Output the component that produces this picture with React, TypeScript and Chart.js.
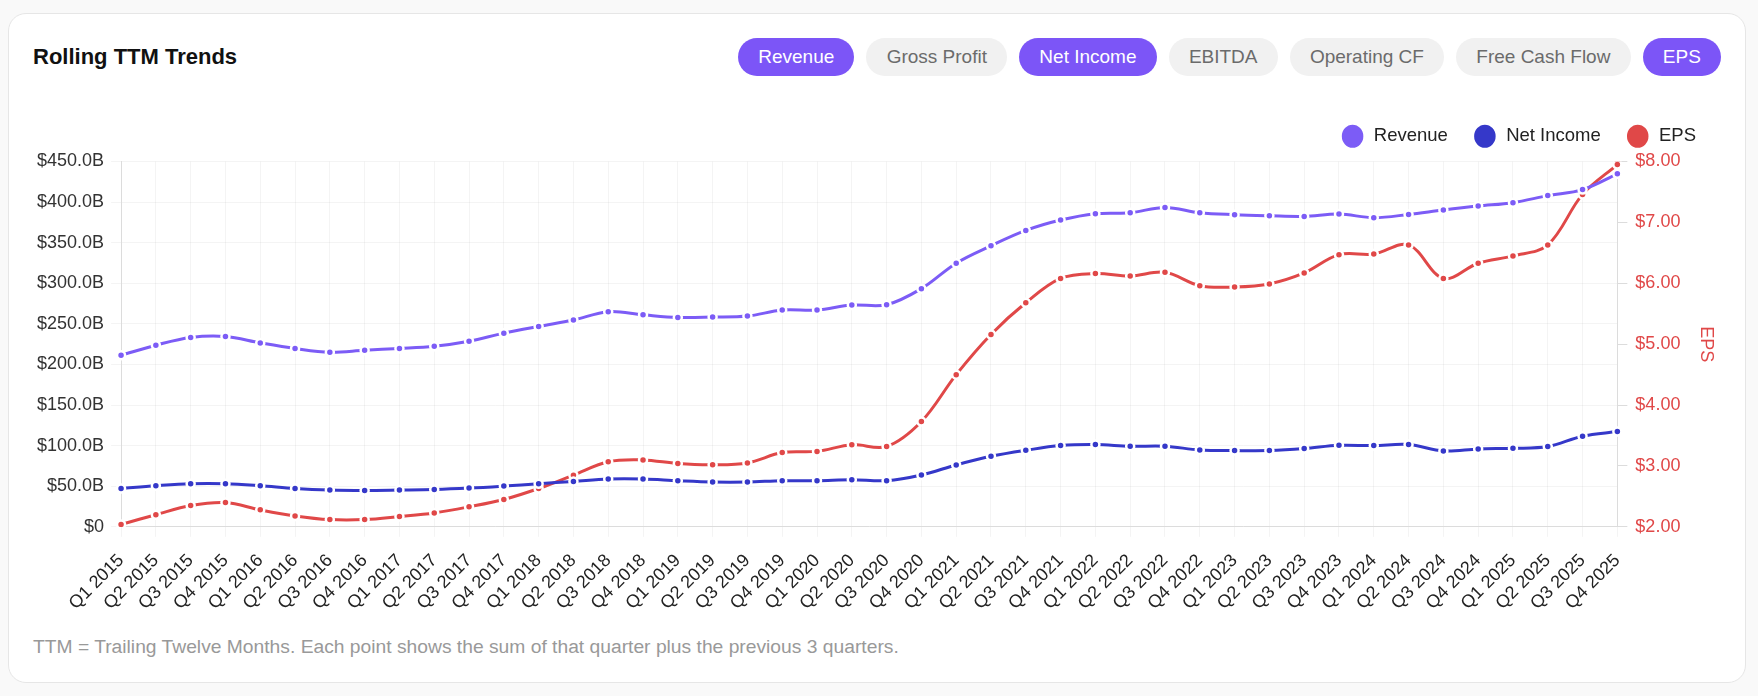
import { useEffect, useRef } from "react";
import Chart from "chart.js/auto";

const quarters = [
  "Q1 2015", "Q2 2015", "Q3 2015", "Q4 2015",
  "Q1 2016", "Q2 2016", "Q3 2016", "Q4 2016",
  "Q1 2017", "Q2 2017", "Q3 2017", "Q4 2017",
  "Q1 2018", "Q2 2018", "Q3 2018", "Q4 2018",
  "Q1 2019", "Q2 2019", "Q3 2019", "Q4 2019",
  "Q1 2020", "Q2 2020", "Q3 2020", "Q4 2020",
  "Q1 2021", "Q2 2021", "Q3 2021", "Q4 2021",
  "Q1 2022", "Q2 2022", "Q3 2022", "Q4 2022",
  "Q1 2023", "Q2 2023", "Q3 2023", "Q4 2023",
  "Q1 2024", "Q2 2024", "Q3 2024", "Q4 2024",
  "Q1 2025", "Q2 2025", "Q3 2025", "Q4 2025",
];

// TTM values in billions of dollars
const revenue = [
  211.4, 223.8, 233.3, 234.5, 226.6, 219.7, 215.1, 217.6, 219.7, 222.5, 228.7, 238.6,
  246.9, 254.7, 265.0, 261.2, 258.0, 258.4, 259.6, 267.0, 267.0, 273.2, 273.6, 293.4,
  324.8, 346.2, 365.1, 377.9, 385.7, 386.9, 393.5, 386.9, 384.5, 383.2, 382.4, 385.3,
  380.8, 384.8, 390.3, 395.2, 399.3, 408.0, 415.4, 434.8,
];

const netIncome = [
  47.3, 50.7, 53.2, 53.2, 50.7, 47.3, 45.4, 44.9, 45.4, 46.1, 47.8, 50.3,
  53.2, 56.0, 59.0, 59.0, 56.9, 55.3, 55.3, 56.9, 56.9, 58.1, 56.9, 63.9,
  76.3, 86.9, 94.3, 100.1, 101.4, 99.3, 99.3, 94.8, 94.0, 94.0, 96.4, 100.5,
  100.1, 101.4, 93.6, 96.0, 96.8, 98.9, 111.7, 117.4,
];

// TTM earnings per share in dollars
const eps = [
  2.04, 2.2, 2.35, 2.4, 2.28, 2.18, 2.12, 2.12, 2.17, 2.23, 2.33, 2.45,
  2.63, 2.85, 3.07, 3.1, 3.04, 3.02, 3.05, 3.22, 3.24, 3.35, 3.32, 3.73,
  4.5, 5.16, 5.68, 6.08, 6.16, 6.12, 6.18, 5.96, 5.94, 5.99, 6.17, 6.47,
  6.48, 6.63, 6.08, 6.33, 6.45, 6.63, 7.46, 7.95,
];

const metrics = ["Revenue", "Gross Profit", "Net Income", "EBITDA", "Operating CF", "Free Cash Flow", "EPS"];
const activeMetrics = ["Revenue", "Net Income", "EPS"];

const FONT = "Arial, 'Liberation Sans', Helvetica, sans-serif";
const PURPLE = "#7c5cf6";
const INDIGO = "#3538c9";
const RED = "#e04848";

// a bit more room under the legend
const legendGap = {
  id: "legendGap",
  beforeInit(chart: any) {
    const legend = chart.legend;
    if (!legend) return;
    const fit = legend.fit;
    legend.fit = function () {
      fit.call(this);
      this.height += 6;
    };
  },
};

function TrendsChart() {
  const canvasRef = useRef<HTMLCanvasElement | null>(null);
  const chartRef = useRef<Chart | null>(null);

  useEffect(() => {
    if (!canvasRef.current) return;
    const ctx = canvasRef.current.getContext("2d");
    if (!ctx) return;

    if (chartRef.current) chartRef.current.destroy();

    const lineStyle = (color: string) => ({
      borderColor: color,
      backgroundColor: color,
      pointBackgroundColor: color,
      pointBorderColor: "#fff",
      pointBorderWidth: 2.5,
      pointRadius: 4,
      borderWidth: 3,
      tension: 0.35,
    });

    chartRef.current = new Chart(ctx, {
      type: "line",
      data: {
        labels: quarters,
        datasets: [
          { label: "Revenue", data: revenue, yAxisID: "y", ...lineStyle(PURPLE) },
          { label: "Net Income", data: netIncome, yAxisID: "y", ...lineStyle(INDIGO) },
          { label: "EPS", data: eps, yAxisID: "y1", ...lineStyle(RED) },
        ],
      },
      plugins: [legendGap],
      options: {
        animation: false,
        responsive: true,
        maintainAspectRatio: false,
        font: { family: FONT },
        plugins: {
          tooltip: { enabled: false },
          legend: {
            position: "top",
            align: "end",
            labels: {
              usePointStyle: true,
              pointStyle: "circle",
              pointStyleWidth: 24,
              boxHeight: 18,
              padding: 25,
              color: "#222",
              font: { family: FONT, size: 18.5 },
            },
          },
        },
        scales: {
          x: {
            grid: { color: "rgba(0,0,0,0.045)", tickLength: 10 },
            border: { color: "#dcdcdc" },
            ticks: {
              autoSkip: false,
              maxRotation: 45,
              minRotation: 45,
              padding: 13,
              color: "#222",
              font: { family: FONT, size: 18 },
            },
          },
          y: {
            position: "left",
            min: 0,
            max: 450,
            grid: { color: "rgba(0,0,0,0.045)", tickLength: 10 },
            border: { color: "#dcdcdc" },
            ticks: {
              stepSize: 50,
              padding: 7,
              color: "#333",
              font: { family: FONT, size: 18 },
              callback: (v) => (Number(v) === 0 ? "$0" : `$${Number(v).toFixed(1)}B`),
            },
          },
          y1: {
            position: "right",
            min: 2,
            max: 8,
            grid: { drawOnChartArea: false, color: "#dcdcdc", tickLength: 10 },
            border: { color: "#dcdcdc" },
            ticks: {
              stepSize: 1,
              padding: 8,
              color: RED,
              font: { family: FONT, size: 18 },
              callback: (v) => `$${Number(v).toFixed(2)}`,
            },
            title: {
              display: true,
              text: "EPS",
              color: RED,
              padding: { top: 4, bottom: 7 },
              font: { family: FONT, size: 18 },
            },
          },
        },
      },
    });

    return () => {
      if (chartRef.current) {
        chartRef.current.destroy();
        chartRef.current = null;
      }
    };
  }, []);

  return <canvas ref={canvasRef} />;
}

export default function App() {
  useEffect(() => {
    document.body.style.background = "#f9f9f9";
  }, []);

  return (
    <div
      style={{
        boxSizing: "border-box",
        width: 1738,
        height: 670,
        marginTop: 5,
        background: "#fff",
        border: "1px solid #e6e6e6",
        borderRadius: 18,
        padding: "24px 24px 0 24px",
        fontFamily: FONT,
      }}
    >
      <div style={{ display: "flex", alignItems: "center", justifyContent: "space-between", height: 38 }}>
        <div style={{ fontSize: 22, fontWeight: 700, color: "#111" }}>Rolling TTM Trends</div>
        <div style={{ display: "flex", gap: 12 }}>
          {metrics.map((m) => {
            const on = activeMetrics.includes(m);
            return (
              <div
                key={m}
                style={{
                  height: 38,
                  lineHeight: "38px",
                  padding: "0 20.2px",
                  borderRadius: 19,
                  fontSize: 19,
                  background: on ? "#7c55f7" : "#f1f1f1",
                  color: on ? "#fff" : "#6b6b6b",
                }}
              >
                {m}
              </div>
            );
          })}
        </div>
      </div>
      <div style={{ position: "relative", height: 525, marginTop: 26, marginLeft: -3 }}>
        <TrendsChart />
      </div>
      <div style={{ marginTop: 9, fontSize: 19.25, color: "#999", lineHeight: "22px" }}>
        TTM = Trailing Twelve Months. Each point shows the sum of that quarter plus the previous 3 quarters.
      </div>
    </div>
  );
}
